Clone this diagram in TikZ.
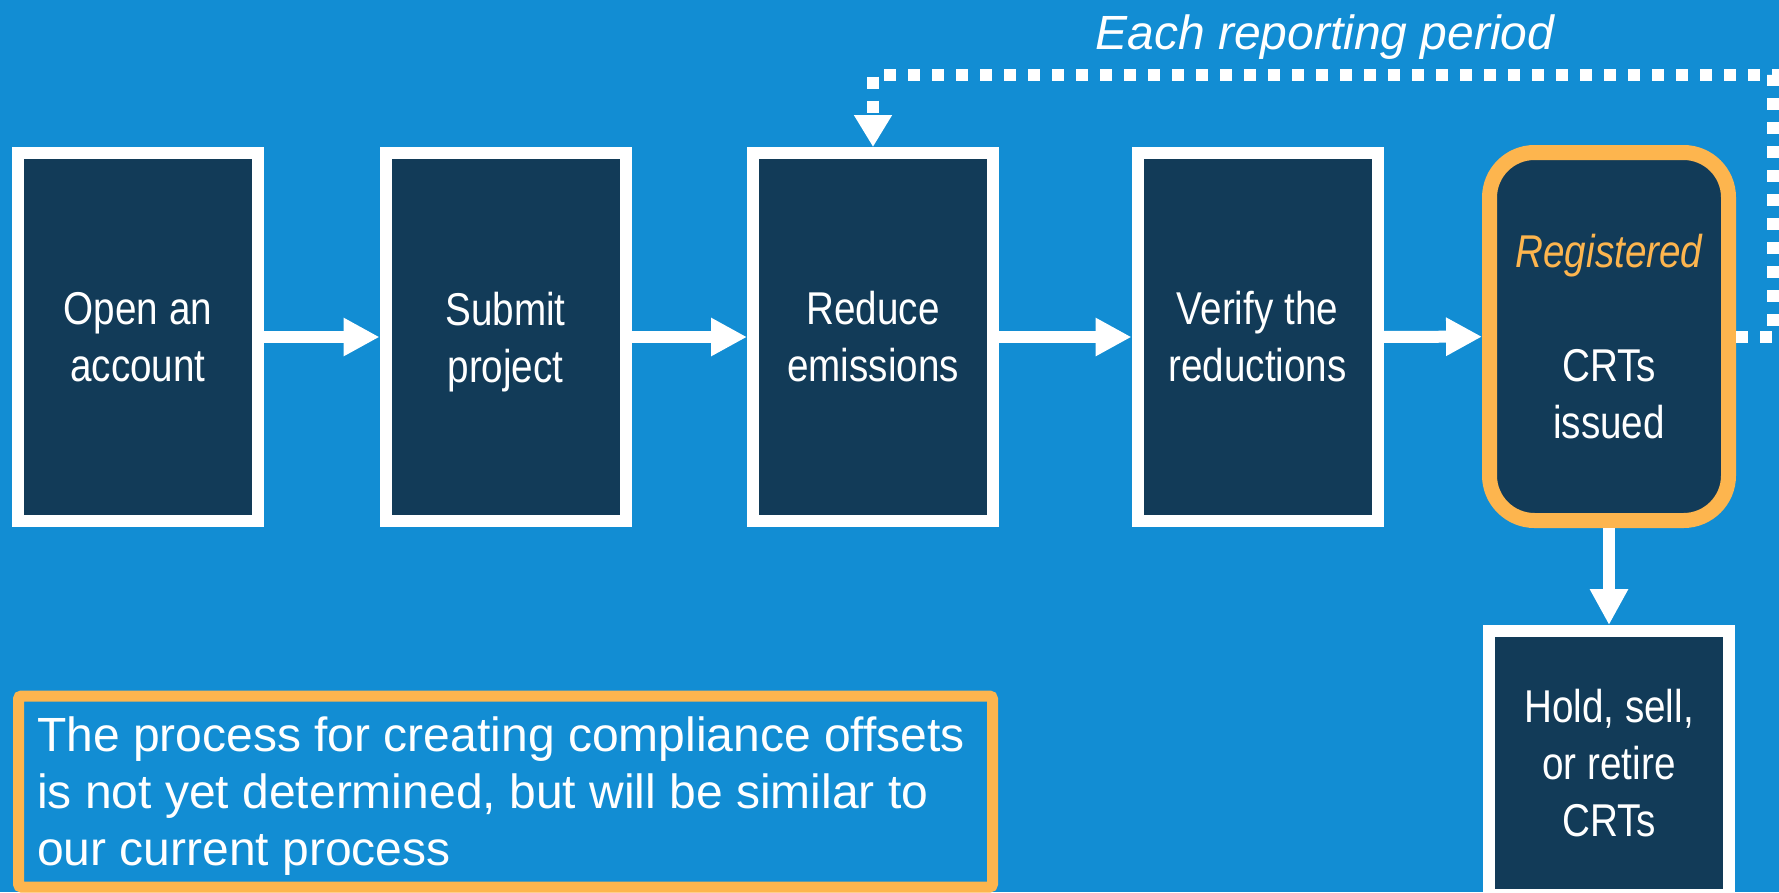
\documentclass[tikz,border=0pt]{standalone}
\usepackage{fontspec}
\setmainfont{Liberation Sans}
\newfontfamily\narrowfont[FakeStretch=0.84]{Liberation Sans}
\usetikzlibrary{arrows.meta}
\definecolor{bgblue}{HTML}{128DD3}
\definecolor{navy}{HTML}{123B58}
\definecolor{gold}{HTML}{FDB54E}
\newcommand\nodepth[1]{\raisebox{0pt}[\height][0pt]{#1}}
\begin{document}
\begin{tikzpicture}[x=1pt,y=-1pt,
  stepbox/.style={draw=white, line width=12pt, fill=navy, minimum width=240pt,
    minimum height=368pt, inner sep=0pt, text=white, align=center,
    font=\narrowfont\fontsize{46}{57}\selectfont},
  flow/.style={draw=white, line width=12pt, -{Triangle[length=36pt,width=36pt]}},
  loopline/.style={draw=white, line width=12pt, dash pattern=on 12pt off 12pt,
    -{Triangle[length=32pt,width=36pt]}},
  plain/.style={text=white, inner sep=0pt, font=\fontsize{48}{57}\selectfont}
]
\fill[bgblue] (0,0) rectangle (1779,892);
\useasboundingbox (0,0) rectangle (1779,892);

\node[stepbox] (open) at (138,337) {Open an\\account};
\node[stepbox] (submit) at (505.5,337) {Submit\\\nodepth{project}};
\node[stepbox] (reduce) at (873,337) {Reduce\\emissions};
\node[stepbox] (verify) at (1257.5,337) {Verify the\\reductions};
\node[stepbox, draw=gold, line width=15pt, rounded corners=45pt, minimum width=239pt]
  (crts) at (1609,336.5) {\textcolor{gold}{\itshape Registered}\\[57pt]CRTs\\issued};
\node[stepbox, minimum height=264pt] (hold) at (1609,763) {Hold, sell,\\or retire\\CRTs};

\draw[flow] (open) -- (submit);
\draw[flow] (submit) -- (reduce);
\draw[flow] (reduce) -- (verify);
\draw[flow] (verify) -- (crts);
\draw[flow] (crts.south) -- (hold.north);

\coordinate (rt) at (1773,75);
\draw[loopline] (crts.east) -- (crts.east -| rt) -- (rt) -- (rt -| reduce.north) -- (reduce.north);

\node[plain, font=\itshape\fontsize{48}{57}\selectfont, anchor=base] (period) at (1325,49) {Each reporting period};

\node[draw=gold, line width=11pt, rounded corners=3pt, minimum width=974pt, minimum height=191pt, inner sep=0pt]
  (note) at (505.5,791.5) {};
\node[plain, anchor=north west, align=left] (notetext) at (37,717)
  {The process for creating compliance offsets\\is not yet determined, but will be similar to\\our current process};
\end{tikzpicture}
\end{document}
